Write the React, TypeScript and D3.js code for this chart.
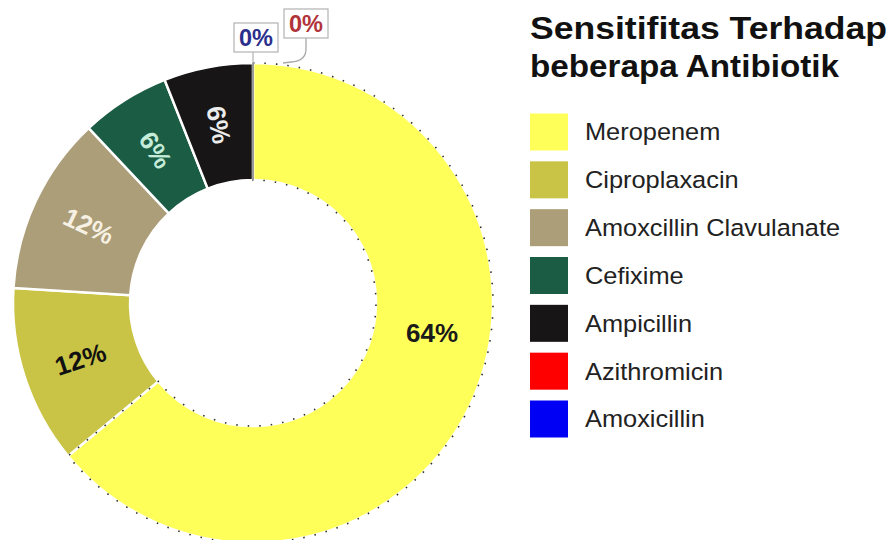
import React from "react";
import * as d3 from "d3";

const width = 892;
const height = 540;

const antibiotics = [
  "Meropenem",
  "Ciproplaxacin",
  "Amoxcillin Clavulanate",
  "Cefixime",
  "Ampicillin",
  "Azithromicin",
  "Amoxicillin",
];
const percents = [64, 12, 12, 6, 6, 0, 0];
const sliceColors = ["#FFFF5A", "#C9C446", "#AC9E78", "#1B5C45", "#171515", "#FF0000", "#0000F4"];
const labelColors = ["#1a1a1a", "#111111", "#f7f1e4", "#c4ecd9", "#ececec", "#b0343a", "#2b2f8c"];
const titleLines = ["Sensitifitas Terhadap", "beberapa Antibiotik"];

const cx = 253;
const cy = 303;
const outerR = 240;
const innerR = 123;

type Slice = d3.PieArcDatum<number>;

const App = () => {
  const pie = d3
    .pie<number>()
    .sort(null)
    .startAngle(0)
    .endAngle(2 * Math.PI);
  const arcs = pie(percents);
  const arc = d3.arc<Slice>().innerRadius(innerR).outerRadius(outerR);
  const labelArc = d3.arc<any>().innerRadius(innerR).outerRadius(outerR);

  const deg = (a: number) => (a * 180) / Math.PI;
  const pct = d3.format(".0%");

  // the big slice's label sits higher than its centroid and stays level
  const sliceLabel = (d: Slice, i: number) => {
    if (i === 0) {
      const a = (99.5 * Math.PI) / 180;
      return { pos: labelArc.centroid({ startAngle: a, endAngle: a }), rot: 0 };
    }
    const mid = (d.startAngle + d.endAngle) / 2;
    return { pos: arc.centroid(d), rot: deg(mid) - 270 };
  };

  // zero slices: anchor on the outer edge at the top
  const zeroIdx = percents.map((v, i) => (v === 0 ? i : -1)).filter((i) => i >= 0);
  const topPt = d3
    .arc<any>()
    .innerRadius(outerR)
    .outerRadius(outerR)
    .centroid({ startAngle: arcs[zeroIdx[0]].startAngle, endAngle: arcs[zeroIdx[0]].endAngle });
  const zeroBoxes = [
    { idx: zeroIdx[0], x: topPt[0] + 31, y: topPt[1] - 54 }, // Azithromicin
    { idx: zeroIdx[1], x: topPt[0] - 19, y: topPt[1] - 40 }, // Amoxicillin
  ];

  const legendY = d3.scalePoint<string>().domain(antibiotics).range([132, 419]);

  const font = "'Liberation Sans', Arial, Helvetica, sans-serif";

  return (
    <div style={{ position: "fixed", left: 0, top: 0 }}>
      <svg width={width} height={height} viewBox={`0 0 ${width} ${height}`} style={{ display: "block", background: "#fff" }}>
        <g transform={`translate(${cx},${cy})`}>
          {arcs.map((d, i) =>
            d.value > 0 ? (
              <path key={antibiotics[i]} d={arc(d) || ""} fill={sliceColors[i]} stroke="#fff" strokeWidth={2.5} />
            ) : null
          )}
          {/* dotted rim on the big slice */}
          <path d={arc(arcs[0]) || ""} fill="none" stroke="#2e2e22" strokeWidth={1.6} strokeDasharray="1.5 10" />
          <line x1={0} y1={-outerR} x2={0} y2={-innerR} stroke="#9a9a9a" strokeWidth={2} />

          {arcs.map((d, i) => {
            if (d.value === 0) return null;
            const { pos, rot } = sliceLabel(d, i);
            return (
              <text
                key={"l" + i}
                transform={`translate(${pos[0]},${pos[1]}) rotate(${rot})`}
                textAnchor="middle"
                dy="0.36em"
                fontFamily={font}
                fontWeight={700}
                fontSize={26}
                fill={labelColors[i]}
              >
                {pct(d.value / 100)}
              </text>
            );
          })}

          {/* leader lines for the zero slices */}
          <path
            d={`M${topPt[0] + 53},${topPt[1] - 25} L${topPt[0] + 53},${topPt[1] - 14} Q${topPt[0] + 53},${topPt[1] - 2} ${topPt[0] + 38},${topPt[1] - 1} L${topPt[0] + 30},${topPt[1]}`}
            fill="none"
            stroke="#a8a8a8"
            strokeWidth={1.3}
          />
          <line x1={topPt[0]} y1={topPt[1] - 11} x2={topPt[0]} y2={topPt[1]} stroke="#b8b8b8" strokeWidth={1.3} />
          {zeroBoxes.map((b) => (
            <g key={"z" + b.idx} transform={`translate(${b.x},${b.y})`}>
              <rect x={0} y={0} width={44} height={29} fill="#fff" stroke="#b8b8b8" strokeWidth={1.3} />
              <text
                x={22}
                y={15}
                dy="0.36em"
                textAnchor="middle"
                fontFamily={font}
                fontWeight={700}
                fontSize={23.5}
                fill={labelColors[b.idx]}
              >
                {pct(percents[b.idx] / 100)}
              </text>
            </g>
          ))}
        </g>

        {/* title */}
        {titleLines.map((t, i) => (
          <text
            key={t}
            x={530}
            y={39 + i * 38}
            fontFamily={font}
            fontWeight={700}
            fontSize={31}
            fill="#111"
            textLength={i === 0 ? 357 : 309}
            lengthAdjust="spacingAndGlyphs"
          >
            {t}
          </text>
        ))}

        {/* legend */}
        {antibiotics.map((name, i) => {
          const y = legendY(name) as number;
          return (
            <g key={"lg" + name}>
              <rect x={530} y={y - 18.5} width={38} height={37} fill={sliceColors[i]} />
              <text
                transform={`translate(585,${y}) scale(1.08,1)`}
                dy="0.36em"
                fontFamily={font}
                fontSize={23.5}
                fill="#222"
              >
                {name}
              </text>
            </g>
          );
        })}
      </svg>
    </div>
  );
};

export default App;
